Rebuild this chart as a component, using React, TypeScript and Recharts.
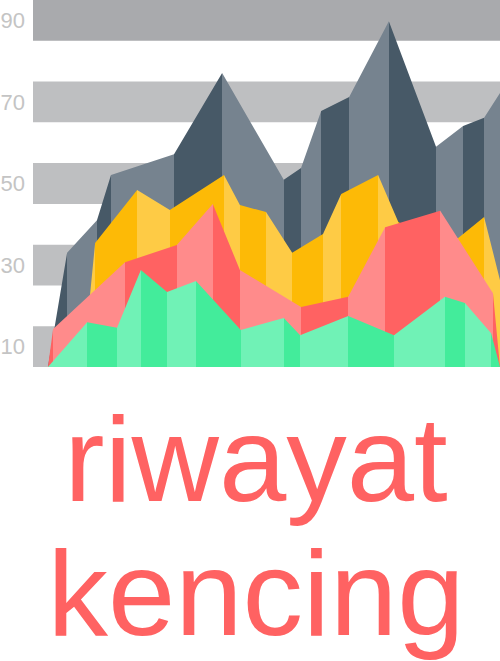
import { AreaChart, Area, XAxis, YAxis, ReferenceArea } from "recharts";

// x = day (0-100), y = value; first/last points sit on the baseline (5)
const grayX = [3.2, 7.3, 13.7, 16.7, 30.2, 40.5, 53.7, 57.4, 61.7, 67.7, 76.2, 86.3, 92.1, 96.6, 100];
const grayY = [5, 33, 41, 52.1, 57.2, 77.1, 50.9, 53.8, 67.8, 71.2, 89.8, 59, 64.1, 66.1, 72.2];

const amberX = [10.7, 13.3, 22.3, 29.3, 40.9, 44.3, 49.9, 55.5, 62.1, 66, 73.9, 78.2, 85, 91, 96.6, 100];
const amberY = [5, 35.4, 48.4, 43.5, 52.1, 44.7, 43, 33, 37.6, 47.4, 52.1, 40.6, 34.9, 36.6, 41.8, 26.3];

const coralX = [3.2, 4.3, 19.7, 30.8, 38.5, 44.3, 57.4, 67.5, 75.4, 87.2, 98.5, 100];
const coralY = [5, 14.3, 30.7, 34.9, 45, 28.8, 19.7, 22.2, 39.3, 43.3, 23.1, 5];

const mintX = [3.2, 11.6, 18, 23.1, 28.7, 34.9, 44.5, 53.7, 57.2, 67.5, 77.3, 88.2, 92.5, 98.1, 100];
const mintY = [5, 16, 14.6, 28.8, 23.4, 26.1, 14.1, 17, 12.8, 17.5, 12.8, 22.2, 20.7, 13.3, 5];

const yTicks = [10, 30, 50, 70, 90];
const bands = [
  [5, 15],
  [25, 35],
  [45, 55],
  [65, 75],
  [85, 95],
];

const series = [
  { key: "gray", xs: grayX, ys: grayY },
  { key: "amber", xs: amberX, ys: amberY },
  { key: "coral", xs: coralX, ys: coralY },
  { key: "mint", xs: mintX, ys: mintY },
];

// facet colours, alternating per segment (first colour = first segment)
const facetColors: Record<string, string[]> = {
  gray: ["#475967", "#76838f"],
  amber: ["#fecb45", "#fdba06"],
  coral: ["#ff6262", "#ff8b8b"],
  mint: ["#70f2b6", "#43ec9b"],
};

const rowsByX = new Map<number, any>();
series.forEach((s) =>
  s.xs.forEach((x, i) => {
    const row = rowsByX.get(x) ?? { x };
    row[s.key] = s.ys[i];
    rowsByX.set(x, row);
  })
);
const table = [...rowsByX.values()].sort((a, b) => a.x - b.x);

function facetStops(xs: number[], colors: string[]) {
  const min = xs[0];
  const span = xs[xs.length - 1] - min;
  const stops: JSX.Element[] = [];
  for (let i = 0; i < xs.length - 1; i++) {
    const c = colors[i % 2];
    stops.push(<stop key={i + "a"} offset={(xs[i] - min) / span} stopColor={c} />);
    stops.push(<stop key={i + "b"} offset={(xs[i + 1] - min) / span} stopColor={c} />);
  }
  return stops;
}

function YTick({ x, y, payload }: any) {
  return (
    <text
      x={x}
      y={y}
      dy="0.355em"
      textAnchor="end"
      fill="#c4c4c4"
      fontSize={22}
      fontFamily='"Liberation Sans", Arial, sans-serif'
    >
      {payload.value}
    </text>
  );
}

export default function App() {
  return (
    <div style={{ position: "relative", width: 500, height: 661, overflow: "hidden", background: "#fff" }}>
      <style>{"body{margin:0}"}</style>
      <AreaChart width={500} height={367} data={table} margin={{ top: 0, right: 0, bottom: 0, left: 0 }}>
        <defs>
          {series.map((s) => (
            <linearGradient key={s.key} id={"facet-" + s.key} x1="0" y1="0" x2="1" y2="0">
              {facetStops(s.xs, facetColors[s.key])}
            </linearGradient>
          ))}
        </defs>
        <XAxis type="number" dataKey="x" domain={[0, 100]} hide />
        <YAxis
          type="number"
          domain={[5, 95]}
          ticks={yTicks}
          width={33}
          axisLine={false}
          tickLine={false}
          tick={<YTick />}
        />
        {bands.map(([lo, hi], i) => (
          <ReferenceArea
            key={i}
            y1={lo}
            y2={hi}
            fill={hi === 95 ? "#a9aaad" : "#bebfc1"}
            fillOpacity={1}
            stroke="none"
            zIndex={-50}
          />
        ))}
        {series.map((s) => (
          <Area
            key={s.key}
            type="linear"
            dataKey={s.key}
            connectNulls
            stroke="none"
            fill={`url(#facet-${s.key})`}
            fillOpacity={1}
            dot={false}
            activeDot={false}
            isAnimationActive={false}
          />
        ))}
      </AreaChart>
      <div
        style={{
          position: "absolute",
          left: 6,
          top: 392,
          width: 500,
          textAlign: "center",
          fontFamily: '"Liberation Sans", Arial, sans-serif',
          fontSize: 121,
          lineHeight: "134px",
          color: "#ff6262",
        }}
      >
        <div>riwayat</div>
        <div>kencing</div>
      </div>
    </div>
  );
}
